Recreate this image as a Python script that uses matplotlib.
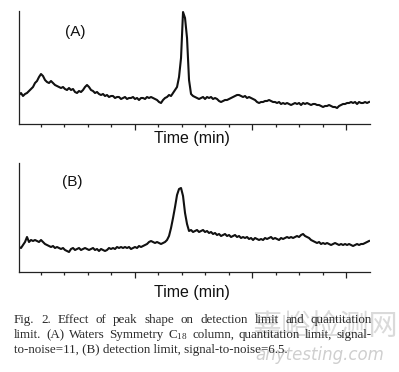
import numpy as np
import matplotlib
matplotlib.use('Agg')
import matplotlib.pyplot as plt

# chromatogram A (quantitation limit, S/N = 11), detector signal
signal_a = [29, 31, 28, 30, 31, 33, 35, 37, 41, 43, 47, 50, 48, 44, 42, 41, 43, 41, 39, 38,
            37, 36, 37, 35, 34, 36, 34, 35, 32, 31, 33, 32, 34, 37, 39, 37, 34, 33, 31, 32,
            30, 29, 30, 28, 29, 27, 28, 28, 26, 27, 27, 25, 26, 27, 25, 26, 26, 27, 25, 26,
            24, 26, 26, 25, 27, 26, 27, 26, 25, 24, 22, 21, 24, 26, 27, 29, 28, 31, 34, 37,
            47, 66, 112, 106, 86, 44, 30, 28, 27, 26, 25, 26, 27, 25, 27, 26, 27, 25, 26, 25,
            23, 22, 23, 24, 24, 25, 26, 27, 28, 29, 29, 28, 27, 28, 26, 27, 26, 25, 24, 22,
            21, 22, 22, 23, 23, 24, 23, 22, 22, 21, 22, 20, 21, 20, 21, 20, 19, 20, 21, 20,
            21, 19, 21, 20, 21, 20, 19, 20, 20, 19, 19, 18, 17, 18, 18, 19, 18, 17, 17, 16,
            18, 19, 20, 20, 21, 21, 22, 21, 22, 20, 22, 21, 21, 22, 21, 22]

# chromatogram B (detection limit, S/N = 6.5)
signal_b = [25, 24, 27, 30, 35, 30, 32, 31, 32, 31, 30, 32, 30, 28, 27, 26, 25, 26, 24, 25,
            24, 23, 24, 22, 21, 20, 23, 24, 22, 23, 24, 22, 23, 24, 23, 22, 23, 24, 22, 23,
            21, 23, 22, 21, 22, 24, 23, 24, 23, 25, 24, 25, 24, 25, 24, 25, 23, 24, 25, 24,
            26, 25, 26, 27, 28, 30, 31, 30, 29, 30, 29, 28, 29, 30, 32, 36, 44, 54, 65, 77,
            83, 84, 76, 59, 48, 41, 42, 40, 41, 42, 40, 41, 42, 40, 41, 39, 40, 38, 39, 37,
            38, 36, 37, 38, 36, 37, 35, 36, 37, 35, 36, 34, 35, 34, 35, 33, 34, 32, 34, 33,
            32, 33, 32, 34, 33, 34, 35, 33, 34, 33, 32, 34, 33, 34, 35, 34, 35, 34, 35, 36,
            35, 37, 38, 36, 35, 34, 32, 31, 30, 29, 30, 28, 29, 28, 29, 28, 27, 28, 29, 28,
            27, 28, 27, 28, 27, 28, 27, 26, 27, 28, 27, 28, 28, 29, 30, 31]

# detector sampled at a constant rate over the run (min)
time = np.linspace(0.08, 14.98, len(signal_a))
minor_ticks = [1, 2, 3, 4, 6, 7, 8, 9, 11, 12, 13]
major_ticks = [5, 10, 14]

panel_labels = ['(A)', '(B)']
xlabel = 'Time (min)'
caption = [
    'Fig. 2. Effect of peak shape on detection limit and quantitation',
    'limit. (A) Waters Symmetry C$_{18}$ column, quantitation limit, signal-',
    'to-noise=11, (B) detection limit, signal-to-noise=6.5.',
]

plt.rcParams['mathtext.fontset'] = 'custom'
plt.rcParams['mathtext.rm'] = 'Liberation Serif'
plt.rcParams['mathtext.it'] = 'Liberation Serif:italic'

W, H = 399, 372
fig = plt.figure(figsize=(W / 100, H / 100), dpi=100)

ax_a = fig.add_axes([19 / W, 1 - 124 / H, 351 / W, 113 / H])
ax_b = fig.add_axes([19 / W, 1 - 272 / H, 351 / W, 109 / H])

for ax, sig, ytop, lab, lab_xy, xl_y in [
        (ax_a, signal_a, 113, panel_labels[0], (75, 32), 138),
        (ax_b, signal_b, 109, panel_labels[1], (72, 182), 293)]:
    ax.plot(time, sig, color='#111111', lw=1.5)
    ax.set_xlim(0.08, 15.02)
    ax.set_ylim(0, ytop)
    ax.spines['top'].set_visible(False)
    ax.spines['right'].set_visible(False)
    for s in ['left', 'bottom']:
        ax.spines[s].set_linewidth(0.9)
        ax.spines[s].set_color('#222222')
    ax.set_yticks([])
    ax.set_xticks(major_ticks)
    ax.set_xticks(minor_ticks, minor=True)
    ax.tick_params(axis='x', which='major', direction='out', length=4.5, width=0.9,
                   labelbottom=False, color='#222222')
    ax.tick_params(axis='x', which='minor', direction='out', length=2, width=0.9,
                   color='#222222')
    fig.text(lab_xy[0] / W, 1 - lab_xy[1] / H, lab, ha='center', va='center',
             fontsize=11, family='Liberation Sans', color='#111111')
    fig.text(192 / W, 1 - xl_y / H, xlabel, ha='center', va='center',
             fontsize=11.5, family='Liberation Sans', color='#111111')

# watermark of the source site
fig.text(326 / W, 1 - 328 / H, '嘉峪检测网', ha='center', va='center', fontsize=21,
         family='Noto Sans CJK SC', color='#dadada', zorder=0)
fig.text(320 / W, 1 - 355 / H, 'anytesting.com', ha='center', va='center', fontsize=12,
         style='italic', family='DejaVu Sans', color='#cfcfcf', zorder=0)

# caption, first two lines justified
r = fig.canvas.get_renderer()
x0, x1 = 14, 372
fs = 9.4
for i, line in enumerate(caption):
    y = 1 - (320 + 15 * i) / H
    if i == len(caption) - 1:
        fig.text(x0 / W, y, line, ha='left', va='center', fontsize=fs,
                 family='Liberation Serif', color='#2a2a2a')
        continue
    words = line.split(' ')
    ts = [fig.text(0, y, w, ha='left', va='center', fontsize=fs,
                   family='Liberation Serif', color='#2a2a2a') for w in words]
    widths = [t.get_window_extent(r).width for t in ts]
    gap = (x1 - x0 - sum(widths)) / (len(words) - 1)
    x = x0
    for t, w in zip(ts, widths):
        t.set_x(x / W)
        x += w + gap

fig.savefig('out.png', dpi=100)
